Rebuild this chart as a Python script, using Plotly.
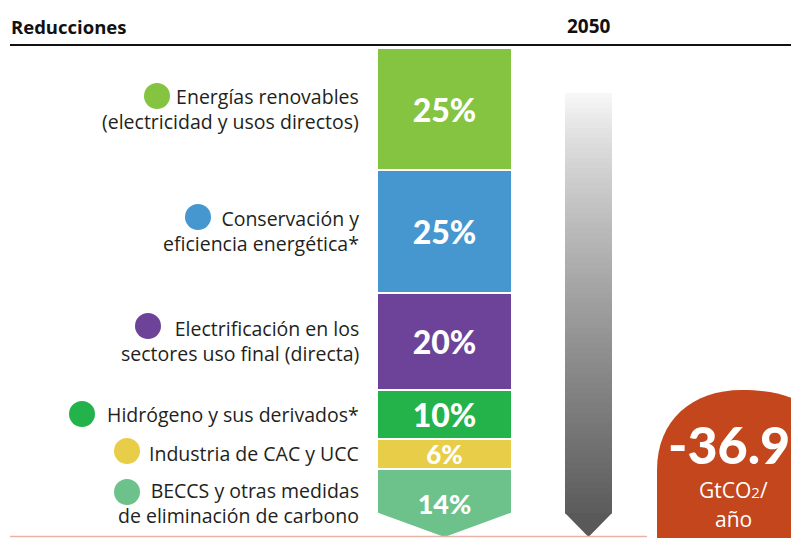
import plotly.graph_objects as go

# ---- data ----
categories = [
    "Energías renovables<br>(electricidad y usos directos)",
    "Conservación y<br>eficiencia energética*",
    "Electrificación en los<br>sectores uso final (directa)",
    "Hidrógeno y sus derivados*",
    "Industria de CAC y UCC",
    "BECCS y otras medidas<br>de eliminación de carbono",
]
shares = [25, 25, 20, 10, 6, 14]
colors = ["#84c441", "#4696d0", "#6d439a", "#24b24b", "#e8cd48", "#6cc28a"]
header_left = "Reducciones"
header_year = "2050"
total_value = "-36.9"
total_unit_lines = ["GtCO<span style='font-size:15px'>2</span>/", "año"]

W, H = 799, 538
OFF = 8                       # page body margin
PX_TOP, PX_PER = 48.0, 4.89   # pixel of 0 % and pixels per %


def vy(p):
    return (p - PX_TOP) / PX_PER


fig = go.Figure()

BAR_X, BAR_W = 444.5, 135
pct_sizes = [32, 32, 32, 32, 26, 27]
for cat, v, c, fs in zip(categories, shares, colors, pct_sizes):
    fig.add_trace(go.Bar(
        x=[BAR_X], y=[v], width=BAR_W, marker=dict(color=c, line=dict(color="white", width=2)),
        text=[f"{v}%"], textposition="inside", insidetextanchor="middle",
        textangle=0, constraintext="none",
        textfont=dict(color="white", size=fs, family="Lato", weight=900),
        hoverinfo="skip", showlegend=False,
    ))

cum = 0
mids = []
for v in shares:
    mids.append(cum + v / 2)
    cum += v

annotations = []
for cat, m in zip(categories, mids):
    annotations.append(dict(
        x=361, y=m, xref="x", yref="y", xanchor="right", yanchor="middle",
        text=cat, align="right", showarrow=False,
        font=dict(family="Open Sans", size=19.5, color="#231f20"),
    ))

annotations.append(dict(x=9, y=26, xref="x", yref="y2", xanchor="left", yanchor="middle",
                        text=f"<b>{header_left}</b>", showarrow=False,
                        font=dict(family="Open Sans", size=18.5, color="#111")))
annotations.append(dict(x=589, y=26, xref="x", yref="y2", xanchor="center", yanchor="middle",
                        text=f"<b>{header_year}</b>", showarrow=False,
                        font=dict(family="Open Sans", size=19, color="#111")))
annotations.append(dict(x=729, y=444, xref="x", yref="y2", xanchor="center", yanchor="middle",
                        text=total_value, showarrow=False,
                        font=dict(family="Lato", size=52, color="white", weight=900)))
for txt, yy, xx in zip(total_unit_lines, [490, 518.5], [733, 733]):
    annotations.append(dict(x=xx, y=yy, xref="x", yref="y2", xanchor="center", yanchor="middle",
                            text=txt, showarrow=False,
                            font=dict(family="Open Sans", size=21, color="white")))

shapes = []
shapes.append(dict(type="line", x0=10, x1=799, y0=45, y1=45, xref="x", yref="y2",
                   line=dict(color="#111", width=2.2)))

tip_side = vy(512)
left, right = BAR_X - BAR_W / 2 - 1, BAR_X + BAR_W / 2 + 1
shapes.append(dict(type="path", xref="x", yref="y", layer="above",
                   path=f"M {left},{tip_side} L {BAR_X},100 L {left},101 Z",
                   fillcolor="white", line=dict(width=0)))
shapes.append(dict(type="path", xref="x", yref="y", layer="above",
                   path=f"M {right},{tip_side} L {BAR_X},100 L {right},101 Z",
                   fillcolor="white", line=dict(width=0)))

gx0, gx1 = 565, 612
top, side_bottom, tip = 93, 513, 537
N = 84
step = (side_bottom - top) / N


def gray(t):
    g = int(round(250 - 165 * (t ** 0.8)))
    return f"rgb({g},{g},{g})"


for i in range(N):
    y0 = top + i * step
    t = (y0 + step / 2 - top) / (tip - top)
    shapes.append(dict(type="rect", x0=gx0, x1=gx1, y0=y0, y1=y0 + step + 0.6,
                       xref="x", yref="y2", fillcolor=gray(t), line=dict(width=0), layer="above"))
shapes.append(dict(type="path", xref="x", yref="y2", layer="above",
                   path=f"M {gx0},{side_bottom} L {gx1},{side_bottom} L {(gx0+gx1)/2},{tip} Z",
                   fillcolor=gray(0.97), line=dict(width=0)))

shapes.append(dict(type="line", x0=10, x1=647, y0=536.5, y1=536.5, xref="x", yref="y2",
                   line=dict(color="#e8b3a6", width=1.5), layer="above"))

shapes.append(dict(type="path", xref="x", yref="y2", layer="above",
                   path="M 657,540 L 657,470 C 657,420 692,390 742,390 C 775,390 800,398 815,412 L 815,540 Z",
                   fillcolor="#c4461c", line=dict(width=0)))

dots = [(157, 96), (198, 217), (148, 326), (82, 414), (127, 451), (127, 492)]
for (cx, cy), c in zip(dots, colors):
    shapes.append(dict(type="circle", xref="x", yref="y2", x0=cx - 13, x1=cx + 13,
                       y0=cy - 13, y1=cy + 13, fillcolor=c, line=dict(width=0)))

fig.update_layout(
    width=W - OFF, height=H - OFF, margin=dict(l=0, r=0, t=0, b=0, pad=0),
    paper_bgcolor="white", plot_bgcolor="white",
    barmode="stack", bargap=0,
    xaxis=dict(range=[OFF, W], visible=False, fixedrange=True),
    yaxis=dict(range=[vy(H), vy(OFF)], visible=False, fixedrange=True),
    yaxis2=dict(range=[H, OFF], visible=False, overlaying="y", fixedrange=True),
    shapes=shapes, annotations=annotations,
    showlegend=False,
)

fig.write_html("out.html", config={"displayModeBar": False})
